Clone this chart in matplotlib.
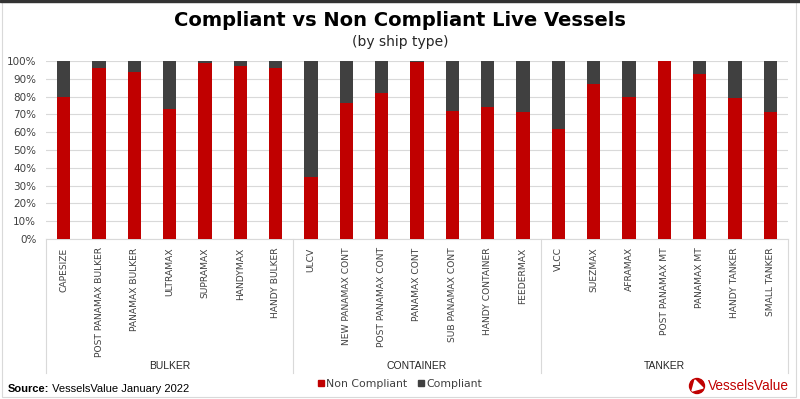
import matplotlib
matplotlib.use('Agg')

import matplotlib.pyplot as plt
import numpy as np
from matplotlib.lines import Line2D
from matplotlib.patches import Circle, Polygon, Rectangle

# data (share of live vessels, %)
groups = ['BULKER', 'CONTAINER', 'TANKER']
ship_types = [
    ['CAPESIZE', 'POST PANAMAX BULKER', 'PANAMAX BULKER', 'ULTRAMAX',
     'SUPRAMAX', 'HANDYMAX', 'HANDY BULKER'],
    ['ULCV', 'NEW PANAMAX CONT', 'POST PANAMAX CONT', 'PANAMAX CONT',
     'SUB PANAMAX CONT', 'HANDY CONTAINER', 'FEEDERMAX'],
    ['VLCC', 'SUEZMAX', 'AFRAMAX', 'POST PANAMAX MT', 'PANAMAX MT',
     'HANDY TANKER', 'SMALL TANKER'],
]
non_compliant = [
    [80, 96, 94, 73, 99, 97, 96],
    [35, 76.5, 82, 99.4, 72, 74, 71.5],
    [62, 87, 80, 100, 92.5, 79, 71.5],
]

RED = '#C00000'
GREY = '#404040'
GRID = '#D9D9D9'
TXT = '#404040'

labels = [s for grp in ship_types for s in grp]
nc = np.array([v for grp in non_compliant for v in grp])
comp = 100 - nc
x = np.arange(len(labels))

fig = plt.figure(figsize=(8, 3.99), dpi=100)
W, H = 800, 399
ax = fig.add_axes([46 / W, 1 - 239 / H, 742 / W, 178 / H])

ax.bar(x, nc, width=0.37, color=RED, zorder=3)
ax.bar(x, comp, width=0.37, bottom=nc, color=GREY, zorder=3)

ax.set_xlim(-0.5, len(labels) - 0.5)
ax.set_ylim(0, 100)
ax.set_yticks(np.arange(0, 101, 10))
ax.set_yticklabels(['{}%'.format(v) for v in range(0, 101, 10)])
ax.yaxis.grid(True, color=GRID, lw=0.8, zorder=0)
ax.tick_params(axis='y', length=0, labelsize=7.5, labelcolor=TXT, pad=7)

ax.set_xticks(x)
ax.set_xticklabels(labels, rotation=90, va='top', ha='center')
ax.tick_params(axis='x', length=0, labelsize=6.6, labelcolor=TXT, pad=6)

for side in ['left', 'right', 'top']:
    ax.spines[side].set_visible(False)
ax.spines['bottom'].set_color(GRID)

# group dividers and group names below the tick labels
bounds = np.cumsum([0] + [len(g) for g in ship_types]) - 0.5
trans = ax.get_xaxis_transform()
for b in bounds:
    ax.plot([b, b], [0, -0.75], color=GRID, lw=0.8, transform=trans, clip_on=False)
for i, g in enumerate(groups):
    ax.text((bounds[i] + bounds[i + 1]) / 2, -0.713, g, transform=trans,
            ha='center', va='center', fontsize=7.5, color='#262626',
            family='Liberation Sans')

fig.text(0.5, 1 - 20 / H, 'Compliant vs Non Compliant Live Vessels',
         ha='center', va='center', fontsize=14, fontweight='bold', color='black')
fig.text(0.5, 1 - 42 / H, '(by ship type)', ha='center', va='center',
         fontsize=10, color='#262626')

handles = [Line2D([], [], marker='s', ls='none', color=RED, markersize=4),
           Line2D([], [], marker='s', ls='none', color=GREY, markersize=4)]
fig.legend(handles, ['Non Compliant', 'Compliant'], loc='center',
           bbox_to_anchor=(400 / W, 1 - 384 / H), ncol=2, frameon=False,
           fontsize=7.8, handlelength=0.6, handletextpad=0.2, columnspacing=1.0,
           labelcolor=TXT)

src = fig.text(8 / W, 1 - 389 / H, 'Source:', ha='left', va='center',
               fontsize=8, fontweight='bold', color='black', family='Liberation Sans')
ax.annotate(' VesselsValue January 2022', xy=(1, 0.5), xycoords=src,
            ha='left', va='center', fontsize=8, color='black',
            family='Liberation Sans', annotation_clip=False)

# logo
cy = 1 - 386 / H
fig.patches.append(Circle((697, H - 386), 7.5, color=RED,
                          transform=None, figure=fig))
tri = np.array([[692, H - 391], [703, H - 388], [695, H - 380]])
fig.patches.append(Polygon(tri, closed=True, color='white',
                           transform=None, figure=fig))
fig.text(708 / W, cy, 'VesselsValue', ha='left', va='center', fontsize=9.8,
         color=RED, family='Liberation Sans')

# frame
fig.patches.append(Rectangle((2, 2), W - 6, H - 4, fill=False, edgecolor=GRID,
                             lw=0.8, transform=None, figure=fig))
fig.patches.append(Rectangle((0, H - 1.5), W, 1.5, color='#333333',
                             transform=None, figure=fig))

fig.savefig('out.png', dpi=100)
